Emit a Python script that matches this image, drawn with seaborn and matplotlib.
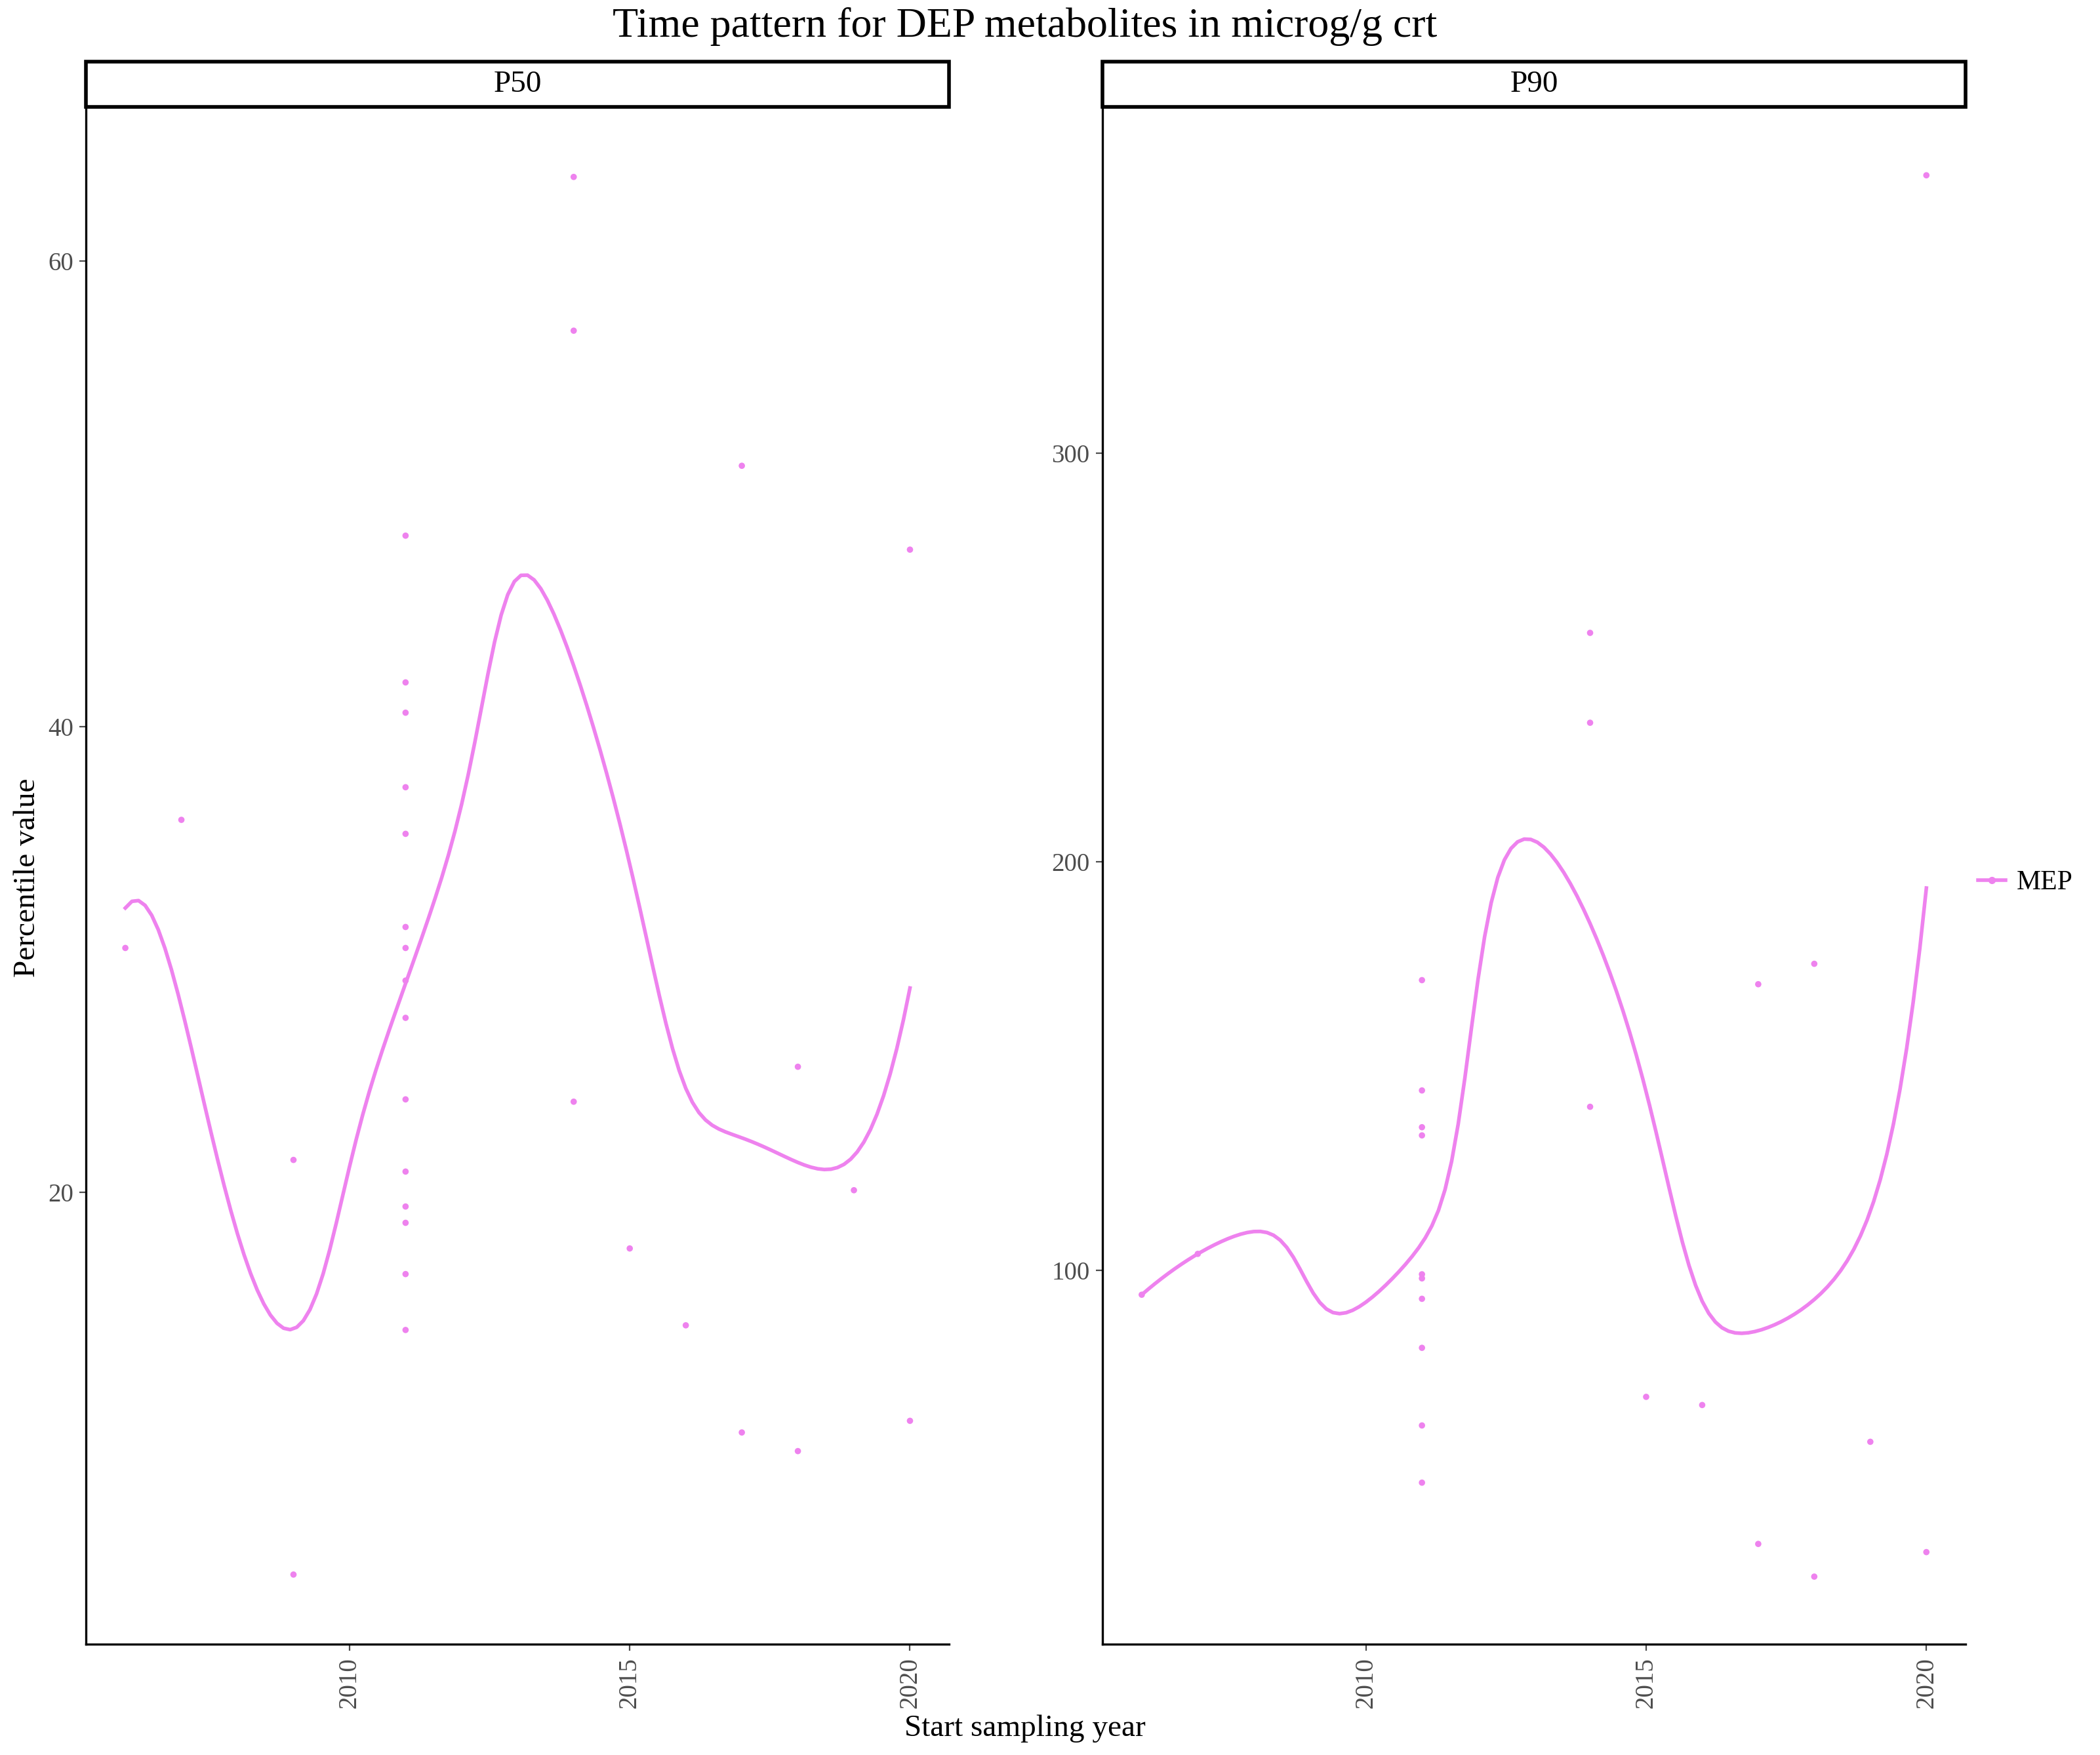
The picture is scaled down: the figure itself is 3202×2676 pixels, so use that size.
import numpy as np
import pandas as pd
import matplotlib
matplotlib.use("Agg")
import matplotlib.pyplot as plt
import seaborn as sns
from matplotlib.lines import Line2D
from matplotlib.patches import Rectangle

# ── data ─────────────────────────────────────────────────────
p50_year = [2006, 2007, 2009, 2009] + [2011] * 15 + [2014, 2014, 2014, 2015, 2016,
            2017, 2017, 2018, 2018, 2019, 2020, 2020]
p50_value = [30.5, 36.0, 21.4, 3.6,
             48.2, 41.9, 40.6, 37.4, 35.4, 31.4, 30.5, 29.1, 27.5, 24.0, 20.9, 19.4, 18.7, 16.5, 14.1,
             63.6, 57.0, 23.9, 17.6, 14.3, 51.2, 9.7, 25.4, 8.9, 20.1, 47.6, 10.2]

p90_year = [2006, 2007] + [2011] * 10 + [2014, 2014, 2014, 2015, 2016,
            2017, 2017, 2018, 2018, 2019, 2020, 2020]
p90_value = [94, 104, 171, 144, 135, 133, 99, 98, 93, 81, 62, 48,
             256, 234, 140, 69, 67, 170, 33, 175, 25, 58, 368, 31]

df = pd.concat([
    pd.DataFrame({'year': p50_year, 'value': p50_value, 'pct': 'P50'}),
    pd.DataFrame({'year': p90_year, 'value': p90_value, 'pct': 'P90'}),
])

COL = '#EE82EE'


def smooth(x, y, grid, bw=1.4):
    # local quadratic fit, gaussian weights with a fixed bandwidth
    x = np.asarray(x, float); y = np.asarray(y, float)
    out = []
    for g in grid:
        w = np.exp(-0.5 * ((x - g) / bw) ** 2)
        X = np.vstack([np.ones_like(x), x - g, (x - g) ** 2]).T
        A = X.T @ (X * w[:, None])
        b = X.T @ (w * y)
        out.append(np.linalg.lstsq(A, b, rcond=None)[0][0])
    return np.array(out)


plt.rcParams['font.family'] = ['Liberation Serif', 'DejaVu Serif']
fig = plt.figure(figsize=(16.01, 13.38), dpi=200)

panels = [('P50', 0.041, (0.6, 66.6), [20, 40, 60]),
          ('P90', 0.525, (8.4, 384.7), [100, 200, 300])]
for name, x0, ylim, yticks in panels:
    ax = fig.add_axes([x0, 0.063, 0.411, 0.876])
    sub = df[df['pct'] == name]
    sns.scatterplot(data=sub, x='year', y='value', color=COL, s=12,
                    edgecolor='none', ax=ax, legend=False)
    grid = np.linspace(2006, 2020, 120)
    sns.lineplot(x=grid, y=smooth(sub['year'], sub['value'], grid),
                 color=COL, linewidth=2, ax=ax)
    ax.set_xlim(2005.3, 2020.7)
    ax.set_ylim(*ylim)
    ax.set_xticks([2010, 2015, 2020])
    ax.set_yticks(yticks)
    ax.tick_params(axis='x', labelrotation=90, labelsize=14, colors='#4d4d4d')
    ax.tick_params(axis='y', labelsize=14, colors='#4d4d4d')
    ax.set_xlabel(''); ax.set_ylabel('')
    for s in ['top', 'right']:
        ax.spines[s].set_visible(False)
    ax.spines['left'].set_linewidth(1.2)
    ax.spines['bottom'].set_linewidth(1.2)
    # facet strip
    fig.patches.append(Rectangle((x0, 0.939), 0.411, 0.026, transform=fig.transFigure,
                                 facecolor='white', edgecolor='black', linewidth=2))
    fig.text(x0 + 0.2055, 0.952, name, ha='center', va='center', fontsize=17)

fig.text(0.488, 0.985, 'Time pattern for DEP metabolites in microg/g crt',
         ha='center', va='center', fontsize=23)
fig.text(0.488, 0.015, 'Start sampling year', ha='center', va='center', fontsize=17)
fig.text(0.013, 0.5, 'Percentile value', ha='center', va='center', rotation=90, fontsize=17)

handle = Line2D([], [], color=COL, linewidth=2, marker='o', markersize=3)
fig.legend([handle], ['MEP'], loc='center left', bbox_to_anchor=(0.942, 0.497),
           frameon=False, fontsize=15, handlelength=1.0, handletextpad=0.4,
           borderaxespad=0, borderpad=0)

fig.savefig('out.png', dpi=200)
